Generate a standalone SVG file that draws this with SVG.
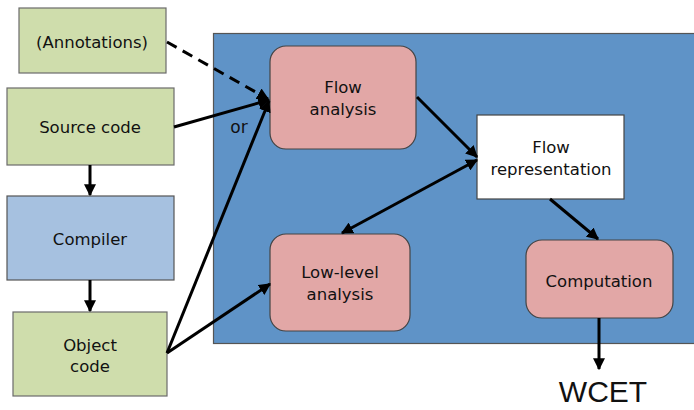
<svg xmlns="http://www.w3.org/2000/svg" width="694" height="410" viewBox="0 0 694 410">
<defs>
<style>
.t{font-family:"DejaVu Sans","Liberation Sans",sans-serif;font-size:16.5px;fill:#111;text-anchor:middle}
.green{fill:#cfddac;stroke:#6b6b6b;stroke-width:1.2}
.pink{fill:#e2a7a6;stroke:#444;stroke-width:1.2}
.c{stroke:#000;stroke-width:3;fill:none}
</style>
<marker id="ah" viewBox="0 0 10 10" refX="9" refY="5" markerWidth="12" markerHeight="12" markerUnits="userSpaceOnUse" orient="auto-start-reverse">
<path d="M0,0 L10,5 L0,10 z" fill="#000"/>
</marker>
</defs>
<rect width="694" height="410" fill="#fff"/>
<g id="container">
<rect x="213.5" y="33.5" width="482" height="310" fill="#5f93c7" stroke="#555" stroke-width="1.2"/>
</g>
<g id="annotations">
<rect class="green" x="19" y="8" width="147" height="65"/>
<text class="t" x="92" y="48">(Annotations)</text>
</g>
<g id="source">
<rect class="green" x="7" y="88" width="167" height="77"/>
<text class="t" x="90" y="133">Source code</text>
</g>
<g id="compiler">
<rect x="7" y="196" width="167" height="84" fill="#a6c1e0" stroke="#555" stroke-width="1.2"/>
<text class="t" x="90" y="245">Compiler</text>
</g>
<g id="object">
<rect class="green" x="13" y="312" width="154" height="84"/>
<text class="t" x="90" y="351">Object</text>
<text class="t" x="90" y="372">code</text>
</g>
<g id="flowanalysis">
<rect class="pink" x="270" y="46" width="146" height="103" rx="16"/>
<text class="t" x="343" y="93">Flow</text>
<text class="t" x="343" y="115">analysis</text>
</g>
<g id="flowrep">
<rect x="477" y="115" width="147" height="84" fill="#fff" stroke="#444" stroke-width="1.2"/>
<text class="t" x="551" y="153">Flow</text>
<text class="t" x="551" y="175">representation</text>
</g>
<g id="lowlevel">
<rect class="pink" x="270" y="234" width="140" height="97" rx="16"/>
<text class="t" x="340" y="278">Low-level</text>
<text class="t" x="340" y="300">analysis</text>
</g>
<g id="computation">
<rect class="pink" x="526" y="240" width="147" height="78" rx="16"/>
<text class="t" x="599" y="287">Computation</text>
</g>
<g id="wcet">
<text x="603" y="402" font-family="'Liberation Sans',Arial,sans-serif" font-size="30" fill="#111" text-anchor="middle">WCET</text>
</g>
<g id="or-label">
<text class="t" x="239" y="133" style="font-size:17px">or</text>
</g>
<g id="connectors">
<line class="c" x1="167" y1="42" x2="268" y2="99" stroke-dasharray="11,7" marker-end="url(#ah)"/>
<line class="c" x1="174" y1="127" x2="269" y2="100" marker-end="url(#ah)"/>
<line class="c" x1="167" y1="353" x2="269" y2="101" marker-end="url(#ah)"/>
<line class="c" x1="167" y1="353" x2="270" y2="284" marker-end="url(#ah)"/>
<line class="c" x1="90" y1="165" x2="90" y2="195" marker-end="url(#ah)"/>
<line class="c" x1="90" y1="280" x2="90" y2="311" marker-end="url(#ah)"/>
<line class="c" x1="417" y1="97" x2="477" y2="157" marker-end="url(#ah)"/>
<line class="c" x1="342" y1="233" x2="477" y2="160" marker-start="url(#ah)" marker-end="url(#ah)"/>
<line class="c" x1="550" y1="199" x2="598" y2="239" marker-end="url(#ah)"/>
<line class="c" x1="599" y1="318" x2="599" y2="369" marker-end="url(#ah)"/>
</g>
</svg>
